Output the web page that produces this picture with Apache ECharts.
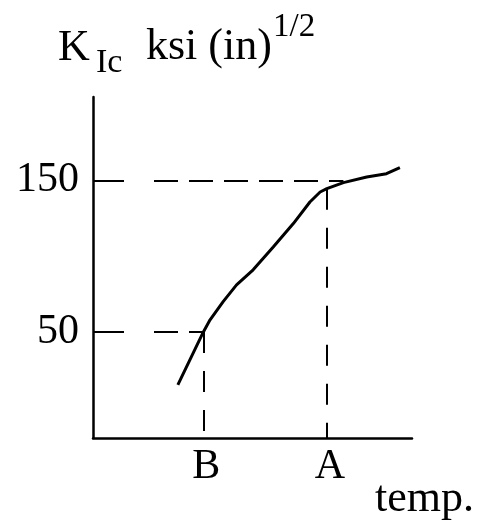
<!DOCTYPE html>
<html>
<head>
<meta charset="utf-8">
<script src="https://cdn.jsdelivr.net/npm/echarts@6/dist/echarts.min.js"></script>
<style>
  html, body { margin: 0; padding: 0; background: #fff; }
  #chart-container { width: 483px; height: 522px; }
</style>
</head>
<body>
<div id="chart-container"></div>
<script>
// curve (temperature in arbitrary units, K_Ic in ksi sqrt(in))
var tempValues = [26.6, 34.6, 36.7, 40.8, 45.0, 50.2, 56.5, 62.8, 68.0, 71.2, 73.3, 78.5, 85.8, 92.0, 96.2];
var kicValues = [15, 50, 58, 70, 81, 91, 106, 121.5, 135.7, 142.3, 144.5, 148.5, 152.2, 154.4, 158.4];

var yTickValues = [50, 150];
var xTickValues = [34.6, 73.3];
var xTickLabels = ["B", "A"];
// where each dashed guide meets the curve
var guideEndX = [34.6, 78.5];
var guideTopY = [50, 144.5];

var serif = "Liberation Serif";
var dom = document.getElementById("chart-container");
var myChart = echarts.init(dom, null, { renderer: "canvas" });

var curve = tempValues.map(function (t, i) {
  return [t, kicValues[i]];
});

// horizontal guides: long first dash doubles as the tick mark
var hDash = [31, 30];
for (var k = 0; k < 10; k++) hDash.push(24, 11);
var hStyle = { color: "#000", width: 2, type: hDash };
var vStyle = { color: "#000", width: 2, type: [21, 18] };

var guides = [];
yTickValues.forEach(function (v, i) {
  guides.push([{ coord: [0, v], lineStyle: hStyle }, { coord: [guideEndX[i], v] }]);
});
xTickValues.forEach(function (v, i) {
  guides.push([{ coord: [v, guideTopY[i]], lineStyle: vStyle }, { coord: [v, -20] }]);
});

var option = {
  animation: false,
  backgroundColor: "#fff",
  grid: { left: 93, top: 97, right: 71, bottom: 84 },
  xAxis: {
    type: "value",
    min: 0,
    max: 100,
    splitLine: { show: false },
    axisLine: { onZero: false, lineStyle: { color: "#000", width: 2.5 } },
    axisTick: { show: false },
    axisLabel: {
      customValues: xTickValues,
      formatter: function (v) {
        var i = xTickValues.indexOf(v);
        return i >= 0 ? xTickLabels[i] : "";
      },
      color: "#000",
      fontFamily: serif,
      fontSize: 42,
      margin: 8,
      padding: [0, 0, 0, 6],
    },
  },
  yAxis: {
    type: "value",
    min: -20,
    max: 205,
    splitLine: { show: false },
    axisLine: { show: true, onZero: false, lineStyle: { color: "#000", width: 2.5 } },
    axisTick: { show: false },
    axisLabel: {
      customValues: yTickValues,
      color: "#000",
      fontFamily: serif,
      fontSize: 42,
      margin: 14,
    },
  },
  graphic: [
    { type: "text", left: 58, top: 26, style: { text: "K", font: "44px " + serif, fill: "#000" } },
    { type: "text", left: 96, top: 46, style: { text: "Ic", font: "34px " + serif, fill: "#000" } },
    { type: "text", left: 146, top: 25, style: { text: "ksi (in)", font: "44px " + serif, fill: "#000" } },
    { type: "text", left: 273, top: 11, style: { text: "1/2", font: "33px " + serif, fill: "#000" } },
    { type: "text", left: 375, top: 477, style: { text: "temp.", font: "44px " + serif, fill: "#000" } },
  ],
  series: [
    {
      type: "line",
      data: curve,
      symbol: "none",
      lineStyle: { color: "#000", width: 3 },
      markLine: {
        silent: true,
        symbol: ["none", "none"],
        label: { show: false },
        lineStyle: { color: "#000", width: 2 },
        data: guides,
      },
    },
  ],
};

myChart.setOption(option);
window.addEventListener("resize", myChart.resize);
</script>
</body>
</html>
